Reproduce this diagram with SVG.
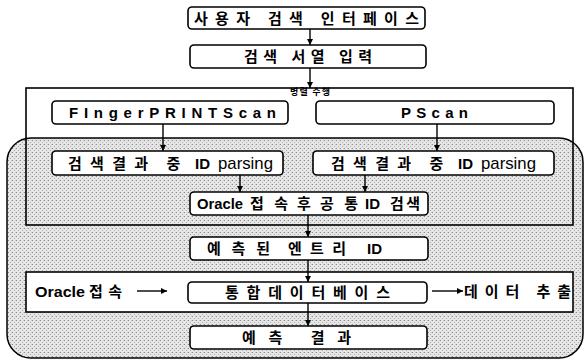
<svg xmlns="http://www.w3.org/2000/svg" width="588" height="363" viewBox="0 0 588 363">
<style>
.box{fill:#fff;stroke:#000;stroke-width:1.6}
.frame{fill:none;stroke:#000;stroke-width:1.6}
.kt{font-family:"Noto Sans CJK KR","Liberation Sans",sans-serif;font-weight:bold;font-size:15px;fill:#000}
.lt{font-family:"Liberation Sans","Noto Sans CJK KR",sans-serif;font-weight:bold;font-size:15px;fill:#000}
.con{stroke:#000;stroke-width:1.4;fill:none}
</style>
<defs>
<pattern id="dots" width="4" height="4" patternUnits="userSpaceOnUse">
<rect width="4" height="4" fill="#e6e6e6"/>
<rect x="0" y="0" width="1" height="1" fill="#8a8a8a"/>
<rect x="2" y="2" width="1" height="1" fill="#aaaaaa"/>
<rect x="3" y="0" width="1" height="1" fill="#c8c8c8"/>
</pattern>
<marker id="ah" viewBox="0 0 10 10" refX="10" refY="5" markerWidth="6" markerHeight="6" orient="auto" markerUnits="userSpaceOnUse">
<path d="M0,0 L10,5 L0,10 z" fill="#000"/>
</marker>
</defs>

<rect width="588" height="363" fill="#fff"/>

<g id="shade">
<rect x="7" y="138" width="576" height="220" rx="24" ry="24" fill="url(#dots)" stroke="#000" stroke-width="1.5"/>
</g>

<g id="parallel">
<rect class="frame" x="26" y="88" width="547" height="137"/>
<text x="290" y="95" font-family="Noto Sans CJK KR,sans-serif" font-weight="bold" font-size="9" textLength="40" lengthAdjust="spacing">병렬 수행</text>
</g>

<g id="db-band">
<rect x="26" y="272" width="547" height="40" fill="#fff" stroke="#000" stroke-width="1.6"/>
</g>

<g id="connectors">
<line class="con" x1="310" y1="29" x2="310" y2="45" marker-end="url(#ah)"/>
<line class="con" x1="310" y1="68" x2="310" y2="88" marker-end="url(#ah)"/>
<line class="con" x1="163" y1="124" x2="163" y2="151" marker-end="url(#ah)"/>
<line class="con" x1="437" y1="124" x2="437" y2="151" marker-end="url(#ah)"/>
<line class="con" x1="240" y1="175" x2="240" y2="192" marker-end="url(#ah)"/>
<line class="con" x1="365" y1="175" x2="365" y2="192" marker-end="url(#ah)"/>
<line class="con" x1="308" y1="215" x2="308" y2="237" marker-end="url(#ah)"/>
<line class="con" x1="308" y1="260" x2="308" y2="282" marker-end="url(#ah)"/>
<line class="con" x1="308" y1="303" x2="308" y2="326" marker-end="url(#ah)"/>
<line class="con" x1="137" y1="291" x2="167" y2="291" marker-end="url(#ah)"/>
<line class="con" x1="432" y1="291" x2="463" y2="291" marker-end="url(#ah)"/>
</g>

<g id="n-ui">
<rect class="box" x="188" y="7" width="237" height="22" rx="4"/>
<text class="kt" x="194" y="23.5" textLength="225" lengthAdjust="spacing">사용자 검색 인터페이스</text>
</g>

<g id="n-input">
<rect class="box" x="190" y="45" width="236" height="23" rx="4"/>
<text class="kt" x="244" y="62" textLength="128" lengthAdjust="spacing">검색 서열 입력</text>
</g>

<g id="n-fp">
<rect class="box" x="52" y="101" width="236" height="23" rx="4"/>
<text class="lt" x="69" y="118" textLength="207" lengthAdjust="spacing">FIngerPRINTScan</text>
</g>

<g id="n-ps">
<rect class="box" x="316" y="101" width="238" height="23" rx="4"/>
<text class="lt" x="401" y="118" textLength="67" lengthAdjust="spacing">PScan</text>
</g>

<g id="n-parse1">
<rect class="box" x="52" y="151" width="231" height="24" rx="4"/>
<text class="kt" y="168.5"><tspan x="68" textLength="80" lengthAdjust="spacing">검색결과</tspan><tspan x="163"> 중</tspan></text>
<text class="lt" y="168.5" font-size="16"><tspan x="195">ID</tspan><tspan x="218" textLength="55" lengthAdjust="spacingAndGlyphs" font-weight="normal" font-size="17">parsing</tspan></text>
</g>

<g id="n-parse2">
<rect class="box" x="313" y="151" width="241" height="24" rx="4"/>
<text class="kt" y="168.5"><tspan x="331" textLength="80" lengthAdjust="spacing">검색결과</tspan><tspan x="426"> 중</tspan></text>
<text class="lt" y="168.5" font-size="16"><tspan x="458">ID</tspan><tspan x="481" textLength="55" lengthAdjust="spacingAndGlyphs" font-weight="normal" font-size="17">parsing</tspan></text>
</g>

<g id="n-oracle">
<rect class="box" x="190" y="192" width="238" height="23" rx="4"/>
<text class="lt" x="197" y="209" textLength="46" lengthAdjust="spacingAndGlyphs" font-weight="normal" font-size="16">Oracle</text>
<text class="kt" x="250" y="209" textLength="38" lengthAdjust="spacing">접속</text>
<text class="kt" x="297" y="209">후</text>
<text class="kt" x="320" y="209" textLength="38" lengthAdjust="spacing">공통</text>
<text class="lt" x="365" y="209" font-size="16">ID</text>
<text class="kt" x="390" y="209" textLength="30" lengthAdjust="spacing">검색</text>
</g>

<g id="n-pred">
<rect class="box" x="190" y="237" width="238" height="23" rx="4"/>
<text class="kt" x="207" y="254" textLength="63" lengthAdjust="spacing">예측된</text>
<text class="kt" x="288" y="254" textLength="58" lengthAdjust="spacing">엔트리</text>
<text class="lt" x="367" y="254" font-size="16">ID</text>
</g>

<g id="n-oracle-conn">
<text class="lt" x="35" y="297" textLength="50" lengthAdjust="spacingAndGlyphs" font-weight="normal" font-size="16">Oracle</text>
<text class="kt" x="89" y="297" textLength="33" lengthAdjust="spacing">접속</text>
</g>

<g id="n-db">
<rect class="box" x="188" y="282" width="239" height="21" rx="4"/>
<text class="kt" x="225" y="297.5" textLength="165" lengthAdjust="spacing">통합데이터베이스</text>
</g>

<g id="n-extract">
<text class="kt" x="464" y="297" textLength="107" lengthAdjust="spacing">데이터 추출</text>
</g>

<g id="n-result">
<rect class="box" x="190" y="326" width="237" height="23" rx="4"/>
<text class="kt" x="242" y="343" textLength="109" lengthAdjust="spacing">예측 결과</text>
</g>
</svg>
